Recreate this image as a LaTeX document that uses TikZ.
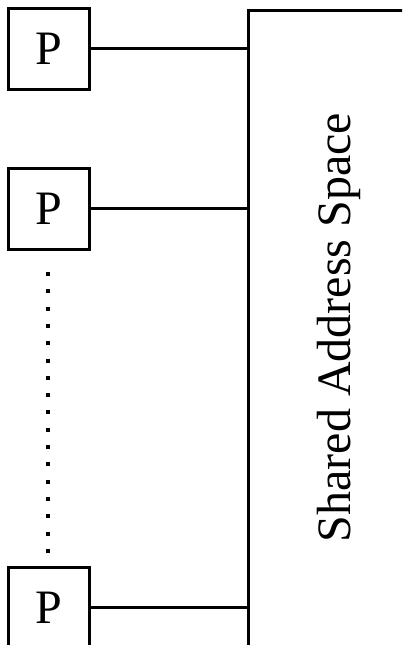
\documentclass[tikz,border=0pt]{standalone}
\usepackage{fontspec}
\setmainfont{Liberation Serif}
\begin{document}
\begin{tikzpicture}[x=1pt,y=1pt,
  proc/.style={draw, line width=3pt, minimum size=81pt, inner sep=0pt, font=\fontsize{48}{48}\selectfont},
  link/.style={line width=2.8pt},
  memory/.style={draw, line width=3.4pt, anchor=north west, minimum width=200pt, minimum height=700pt, inner sep=0pt},
  lbl/.style={font=\fontsize{48}{48}\selectfont, rotate=90, anchor=base, inner sep=0pt}
]
\useasboundingbox (0,0) rectangle (402,-645);
\clip (0,0) rectangle (402,-645);
\node[memory] (mem) at (247,-9) {};
\node[lbl] (label) at (350,-327.5) {Shared Address Space};
\node[proc] (p1) at (48.5,-48.5) {P};
\node[proc] (p2) at (48.5,-208.5) {P};
\node[proc] (p3) at (48.5,-607.5) {P};
\draw[link] (p1.east) -- (p1.east -| mem.west);
\draw[link] (p2.east) -- (p2.east -| mem.west);
\draw[link] (p3.east) -- (p3.east -| mem.west);
\coordinate (d1) at (48,-272);
\coordinate (d2) at (48,-553);
\draw[line width=3.2pt, dash pattern=on 4pt off 13.3pt] (d1) -- (d2);
\end{tikzpicture}
\end{document}
